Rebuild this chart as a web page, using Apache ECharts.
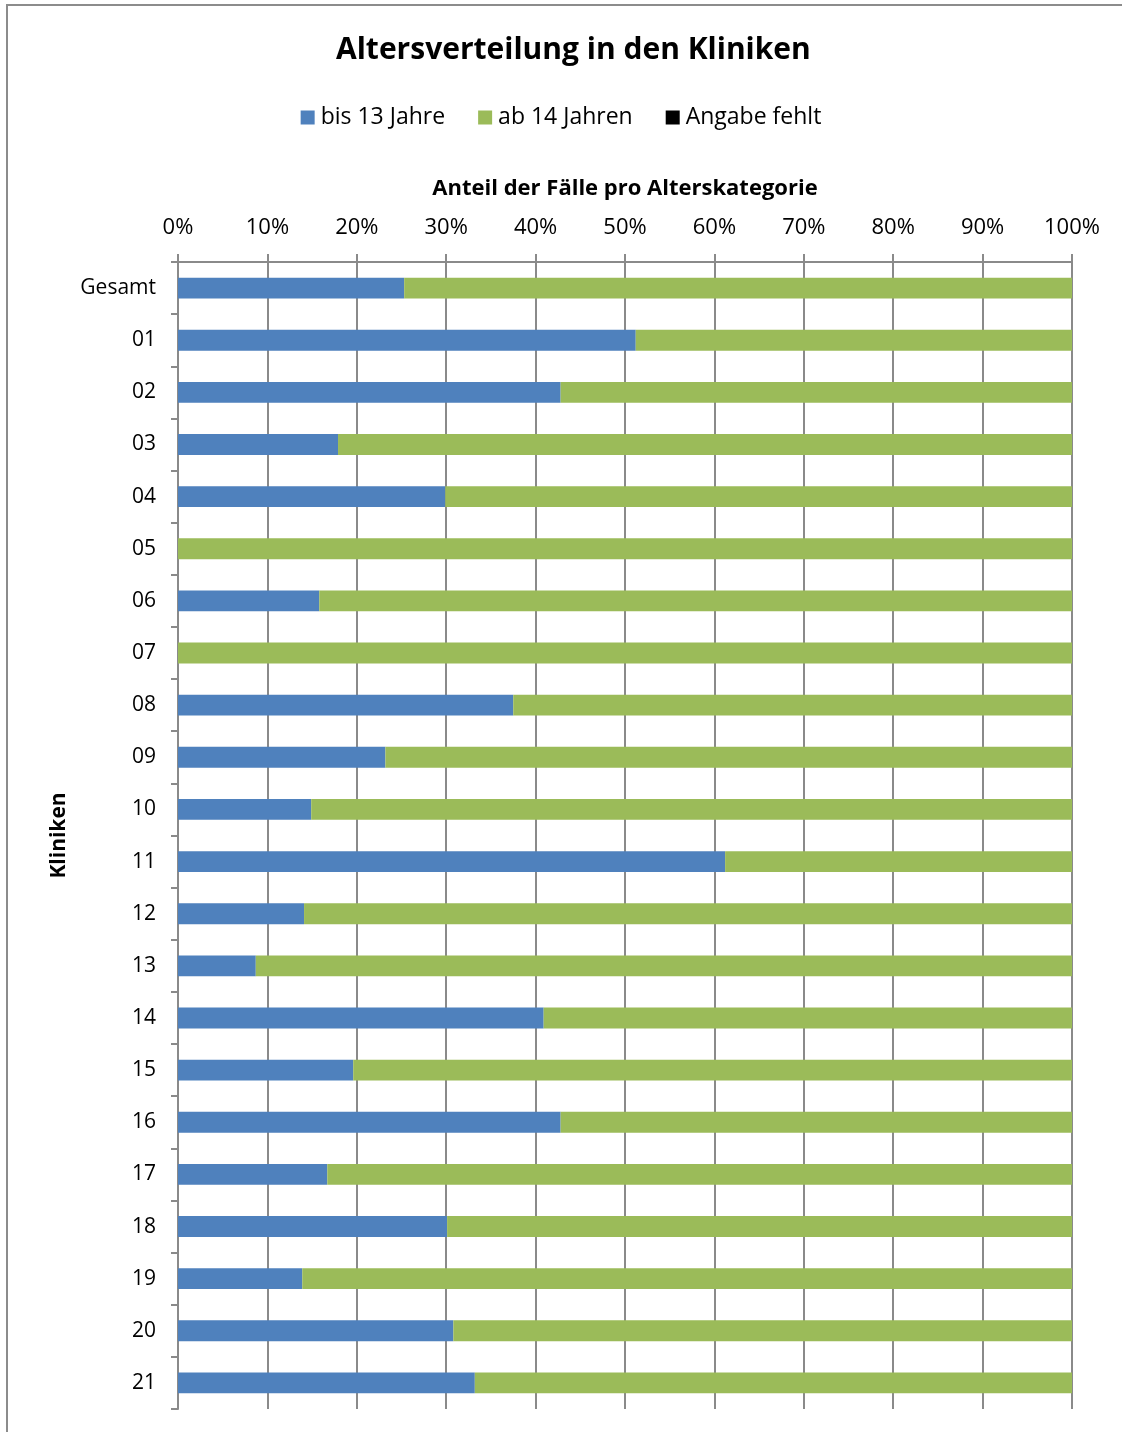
<!DOCTYPE html>
<html>
<head>
<meta charset="utf-8">
<script src="https://cdn.jsdelivr.net/npm/echarts@6/dist/echarts.min.js"></script>
<style>
  html, body { margin: 0; padding: 0; background: #fff; }
  #chart { width: 1122px; height: 1432px; }
</style>
</head>
<body>
<div id="chart"></div>
<script>
// Clinics (top to bottom), with the overall total first
const kliniken = ['Gesamt', '01', '02', '03', '04', '05', '06', '07', '08', '09', '10',
  '11', '12', '13', '14', '15', '16', '17', '18', '19', '20', '21'];

// Share of cases per age group, in percent
const bis13 = [25.3, 51.2, 42.8, 17.9, 29.9, 0, 15.8, 0, 37.5, 23.2, 14.9,
  61.2, 14.1, 8.7, 40.9, 19.6, 42.8, 16.7, 30.1, 13.9, 30.8, 33.2];
const ab14 = [74.7, 48.8, 57.2, 82.1, 70.1, 100, 84.2, 100, 62.5, 76.8, 85.1,
  38.8, 85.9, 91.3, 59.1, 80.4, 57.2, 83.3, 69.9, 86.1, 69.2, 66.8];
const angabeFehlt = [0, 0, 0, 0, 0, 0, 0, 0, 0, 0, 0,
  0, 0, 0, 0, 0, 0, 0, 0, 0, 0, 0];

const xTicks = [0, 10, 20, 30, 40, 50, 60, 70, 80, 90, 100];

const FONT = "'Open Sans', 'Noto Sans', sans-serif";
const GRID_GRAY = '#8a8a8a';

const chart = echarts.init(document.getElementById('chart'), null, { renderer: 'canvas' });

const stackBar = (name, data, color) => ({
  name, type: 'bar', stack: 'anteil', data,
  barWidth: '40%',
  itemStyle: { color },
  emphasis: { disabled: true },
  animation: false
});

chart.setOption({
  backgroundColor: '#ffffff',
  animation: false,
  textStyle: { fontFamily: FONT },
  title: {
    text: 'Altersverteilung in den Kliniken',
    left: 331,
    top: 30,
    textStyle: { fontFamily: FONT, fontSize: 30, fontWeight: 'bold', color: '#000' }
  },
  legend: {
    top: 101,
    left: 'center',
    itemWidth: 14,
    itemHeight: 14,
    itemGap: 33,
    icon: 'rect',
    textStyle: { fontFamily: FONT, fontSize: 23, color: '#000', padding: [0, 0, 0, 1] },
    data: ['bis 13 Jahre', 'ab 14 Jahren', 'Angabe fehlt']
  },
  grid: { left: 178, right: 50, top: 262, bottom: 23, containLabel: false },
  xAxis: {
    type: 'value',
    position: 'top',
    min: 0, max: 100, interval: 10,
    name: 'Anteil der Fälle pro Alterskategorie',
    nameLocation: 'middle',
    nameGap: 62,
    nameTextStyle: { fontFamily: FONT, fontSize: 22, fontWeight: 'bold', color: '#000' },
    axisLine: { show: true, lineStyle: { color: GRID_GRAY, width: 2 } },
    axisTick: { show: true, inside: false, length: 8, lineStyle: { color: GRID_GRAY, width: 2 } },
    axisLabel: {
      margin: 23,
      fontFamily: FONT, fontSize: 22, color: '#000',
      formatter: v => (xTicks.includes(v) ? v + '%' : '')
    },
    splitLine: { show: true, lineStyle: { color: GRID_GRAY, width: 2 } }
  },
  yAxis: {
    type: 'category',
    inverse: true,
    data: kliniken,
    name: 'Kliniken',
    nameLocation: 'middle',
    nameGap: 108,
    nameRotate: 90,
    nameTextStyle: { fontFamily: FONT, fontSize: 21, fontWeight: 'bold', color: '#000' },
    axisLine: { show: true, lineStyle: { color: GRID_GRAY, width: 2 } },
    axisTick: { show: true, inside: false, length: 7, alignWithLabel: false, lineStyle: { color: GRID_GRAY, width: 2 } },
    axisLabel: { margin: 22, fontFamily: FONT, fontSize: 21, color: '#000', padding: [3, 0, 0, 0] },
    splitLine: { show: false }
  },
  graphic: [
    { type: 'line', silent: true, shape: { x1: 6, y1: 5, x2: 1122, y2: 5 }, style: { stroke: '#8c8c8c', lineWidth: 2 } },
    { type: 'line', silent: true, shape: { x1: 7, y1: 5, x2: 7, y2: 1432 }, style: { stroke: '#8c8c8c', lineWidth: 2 } }
  ],
  series: [
    stackBar('bis 13 Jahre', bis13, '#4f81bd'),
    stackBar('ab 14 Jahren', ab14, '#9bbb59'),
    stackBar('Angabe fehlt', angabeFehlt, '#000000')
  ]
});
</script>
</body>
</html>
